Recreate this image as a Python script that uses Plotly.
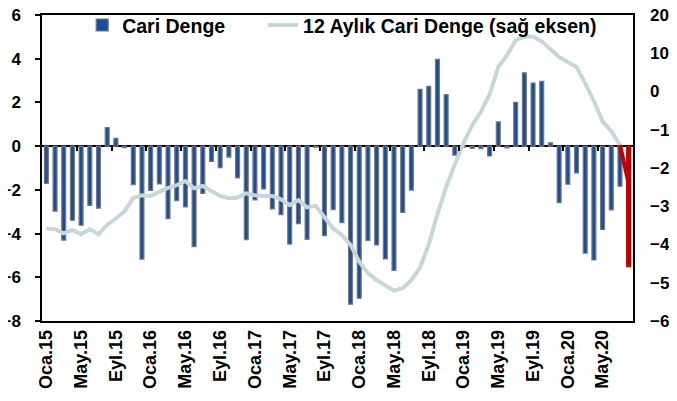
import plotly.graph_objects as go

# Monthly categories Jan 2015 .. Aug 2020 (68 months)
months = ["Oca", "Şub", "Mar", "Nis", "May", "Haz", "Tem", "Ağu", "Eyl", "Eki", "Kas", "Ara"]
categories = [f"{months[m]}.{y:02d}" for y in range(15, 21) for m in range(12)][:68]

# Monthly current account balance (bn USD, left axis)
cari_denge = [
    -1.70, -2.97, -4.30, -3.39, -3.62, -2.71, -2.84, 0.85, 0.36, -0.07,
    -1.76, -5.17, -2.02, -1.73, -3.32, -2.49, -2.78, -4.60, -2.16, -0.70,
    -0.98, -0.50, -1.45, -4.28, -2.46, -1.96, -2.87, -3.14, -4.48, -3.55,
    -4.27, -0.05, -4.10, -2.91, -3.50, -7.23, -6.96, -4.31, -4.52, -5.16,
    -5.68, -3.03, -2.01, 2.60, 2.74, 3.97, 2.36, -0.41, -0.05, -0.10,
    -0.12, -0.45, 1.11, -0.08, 2.00, 3.35, 2.89, 2.97, 0.15, -2.59,
    -1.74, -1.22, -4.90, -5.21, -3.81, -2.92, -1.83, -5.51,
]

# 12-month rolling current account balance (bn USD, right axis)
cari_12ay = [
    -35.8, -36.0, -37.1, -36.2, -37.3, -36.0, -37.3, -34.9, -33.2, -31.3,
    -27.9, -27.1, -27.3, -26.2, -25.2, -24.5, -23.4, -25.3, -24.7, -26.0,
    -27.3, -27.9, -27.7, -26.6, -27.1, -27.3, -27.3, -28.2, -29.7, -28.4,
    -30.3, -29.9, -32.7, -35.8, -37.5, -40.1, -44.5, -47.5, -49.3, -50.8,
    -52.1, -51.4, -49.3, -46.0, -40.0, -32.0, -25.0, -19.0, -13.5, -8.8,
    -5.3, -0.8, 6.4, 9.5, 13.4, 14.3, 14.4, 13.1, 11.2, 9.0,
    7.7, 6.4, 2.1, -2.5, -7.8, -10.4, -14.0, -24.0,
]

tick_idx = list(range(0, 68, 4))
tick_labels = [categories[i] for i in tick_idx]

BLUE = "#1E4C96"
BORDER = "#6F7A86"
RED = "#C00000"
LINE = "#C5D7D9"
FONT = "Liberation Sans, Arial, sans-serif"

n = len(cari_denge)
xs = list(range(n))
bar_colors = [BLUE] * (n - 1) + [RED]
bar_lines = [BORDER] * (n - 1) + [RED]

fig = go.Figure()
fig.add_trace(go.Bar(
    x=xs, y=cari_denge, name="Cari Denge", width=0.45,
    marker=dict(color=bar_colors, line=dict(color=bar_lines, width=1.2)),
    yaxis="y", xaxis="x", legend="legend",
))
fig.add_trace(go.Scatter(
    x=xs[:-1], y=cari_12ay[:-1], name="12 Aylık Cari Denge (sağ eksen)",
    mode="lines", line=dict(color=LINE, width=4), yaxis="y2", xaxis="x",
    legend="legend2",
))
fig.add_trace(go.Scatter(
    x=xs[-2:], y=cari_12ay[-2:], mode="lines", showlegend=False,
    line=dict(color=RED, width=4), yaxis="y2", xaxis="x",
))
# invisible trace to carry the zero-line tick axis
fig.add_trace(go.Scatter(
    x=[0], y=[0], mode="markers", marker=dict(opacity=0), showlegend=False,
    hoverinfo="skip", xaxis="x2", yaxis="y",
))

tickfont = dict(family=FONT, size=17, color="black", weight="bold")
xtickfont = dict(family=FONT, size=18, color="black", weight="bold")
legfont = dict(family=FONT, size=19.5, color="black", weight="bold")

# page body adds an 8px offset, so the figure is sized to the visible area
fig.update_layout(
    width=669, height=393,
    margin=dict(l=34, r=44, t=7, b=80, autoexpand=False),
    paper_bgcolor="white", plot_bgcolor="white",
    showlegend=True,
    legend=dict(
        orientation="h", x=0.068, y=1.03, xanchor="left", yanchor="top",
        font=legfont, bgcolor="rgba(0,0,0,0)",
    ),
    legend2=dict(
        orientation="h", x=0.374, y=1.03, xanchor="left", yanchor="top",
        font=legfont, bgcolor="rgba(0,0,0,0)",
    ),
    xaxis=dict(
        range=[-0.5, n - 0.5], tickvals=tick_idx, ticktext=tick_labels,
        tickangle=-90, tickfont=xtickfont, ticks="", showgrid=False,
        showline=True, linecolor="black", linewidth=1.5, mirror=True,
        zeroline=False, automargin=False, ticklabeloverflow="allow",
    ),
    xaxis2=dict(
        overlaying="x", anchor="free", position=8 / 14, side="bottom",
        range=[-0.5, n - 0.5], tickvals=[i - 0.5 for i in tick_idx[1:]],
        ticks="outside", ticklen=4, tickwidth=1.5, tickcolor="black",
        showticklabels=False, showgrid=False, showline=False, zeroline=False,
        automargin=False,
    ),
    yaxis=dict(
        range=[-8, 6], dtick=2, tickfont=tickfont, ticks="outside", ticklen=5,
        tickwidth=1.5, tickcolor="black", showgrid=False,
        showline=True, linecolor="black", linewidth=1.5, mirror=True,
        zeroline=True, zerolinecolor="black", zerolinewidth=1.5,
        ticklabelstandoff=11, automargin=False, ticklabeloverflow="allow",
    ),
    yaxis2=dict(
        range=[-60, 20], dtick=10, overlaying="y", side="right",
        tickfont=tickfont, ticks="", showgrid=False, zeroline=False,
        showline=False, ticklabelstandoff=16, automargin=False,
        ticklabeloverflow="allow",
    ),
)

fig.write_html("out.html")
